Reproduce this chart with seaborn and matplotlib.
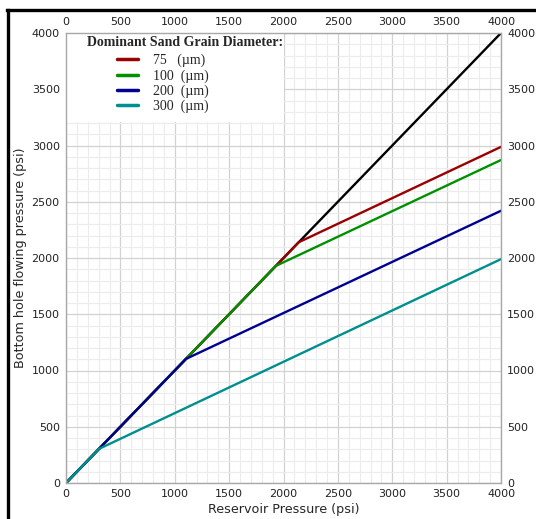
import matplotlib
matplotlib.use("Agg")
import matplotlib.pyplot as plt
from matplotlib.lines import Line2D
from matplotlib.patches import Rectangle
from matplotlib.ticker import MultipleLocator
import seaborn as sns
import pandas as pd

# ---- data ----
diameters = ["75", "100", "200", "300"]
legend_labels = ["75   (\u00b5m)", "100  (\u00b5m)", "200  (\u00b5m)", "300  (\u00b5m)"]
break_pressure = [2140, 1930, 1103, 303]     # psi, point where curve leaves y=x
end_pwf = [2988, 2871, 2420, 1990]           # Pwf at Pr = 4000 psi
pr_max = 4000
colors = ["#990000", "#009000", "#000090", "#008E8E"]
ref_x = [0, 4000]
ref_y = [0, 4000]

rows = []
for d, lab, b, e in zip(diameters, legend_labels, break_pressure, end_pwf):
    for x, y in [(0, 0), (b, b), (pr_max, e)]:
        rows.append({"Pr": x, "Pwf": y, "Diameter": lab})
df = pd.DataFrame(rows)
ref = pd.DataFrame({"Pr": ref_x, "Pwf": ref_y})

sns.set_style("white")
plt.rcParams["font.family"] = ["DejaVu Sans"]

fig = plt.figure(figsize=(5.36, 5.19), dpi=100)
ax = fig.add_axes([66 / 536, 36 / 519, 435 / 536, 450 / 519])

ax.set_xlim(0, 4000)
ax.set_ylim(0, 4000)
ax.xaxis.set_major_locator(MultipleLocator(500))
ax.yaxis.set_major_locator(MultipleLocator(500))
ax.xaxis.set_minor_locator(MultipleLocator(100))
ax.yaxis.set_minor_locator(MultipleLocator(100))
ax.set_axisbelow(True)
ax.grid(which="minor", color="#ececec", lw=0.8)
ax.grid(which="major", color="#d2d2d2", lw=0.9)

sns.lineplot(data=ref, x="Pr", y="Pwf", color="black", lw=1.7, ax=ax, legend=False)
sns.lineplot(data=df, x="Pr", y="Pwf", hue="Diameter", hue_order=legend_labels,
             palette=colors, lw=1.7, ax=ax, legend=False, sort=False)

# white legend box
ax.add_patch(Rectangle((0, (483 - 122) / 450), (284 - 66) / 435, 1 - (483 - 122) / 450,
                       transform=ax.transAxes, facecolor="white", edgecolor="none", zorder=2))
ax.text((185 - 66) / 435, (483 - 43) / 450, "Dominant Sand Grain Diameter:",
        transform=ax.transAxes, ha="center", va="center",
        fontfamily="Liberation Serif", fontweight="bold", fontsize=10, zorder=5)
handles = [Line2D([], [], color=c, lw=2.5) for c in colors]
leg = ax.legend(handles, legend_labels, loc="upper left",
                bbox_to_anchor=((117 - 66) / 435, (483 - 54) / 450),
                frameon=False, borderpad=0, borderaxespad=0,
                handlelength=1.5, handletextpad=1.1, labelspacing=0.12,
                prop={"family": "Liberation Serif", "size": 10})
leg.set_zorder(5)

for s in ax.spines.values():
    s.set_color("#a8a8a8")
    s.set_linewidth(1.0)

ax.tick_params(which="both", length=0, labelsize=8, colors="#222222",
               top=True, right=True, labeltop=True, labelright=True)
ax.tick_params(axis="x", pad=4.5)
ax.tick_params(axis="y", pad=4.5)
ax.set_xlabel("Reservoir Pressure (psi)", fontsize=9.2, labelpad=3)
ax.set_ylabel("Bottom hole flowing pressure (psi)", fontsize=9.2, labelpad=3)

# outer frame
fig.add_artist(Line2D([7 / 536, 1], [1 - 10 / 519, 1 - 10 / 519], color="black", lw=2.4,
                      transform=fig.transFigure, solid_capstyle="projecting"))
fig.add_artist(Line2D([8 / 536, 8 / 536], [0, 1 - 10 / 519], color="black", lw=2.4,
                      transform=fig.transFigure, solid_capstyle="projecting"))

fig.savefig("out.png", dpi=100)
